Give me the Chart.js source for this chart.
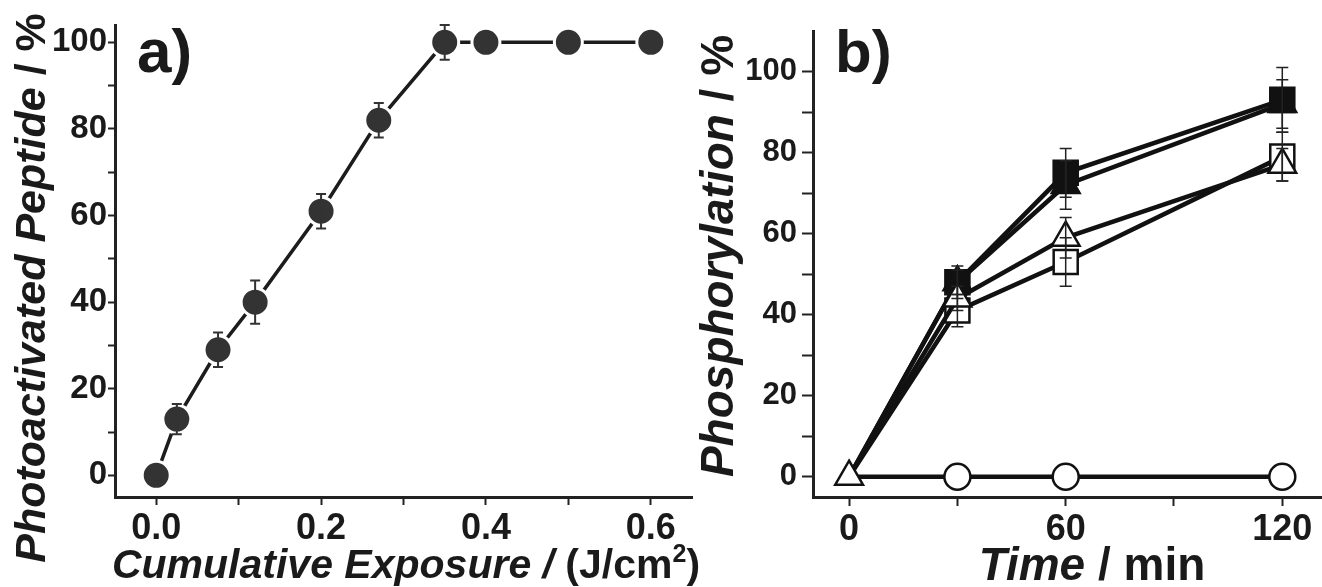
<!DOCTYPE html>
<html>
<head>
<meta charset="utf-8">
<script src="https://cdn.jsdelivr.net/npm/chart.js@4.4.1/dist/chart.umd.min.js"></script>
<style>
  html, body { margin: 0; padding: 0; background: #fff; }
  #wrap { position: relative; width: 1322px; height: 587px; overflow: hidden; }
  canvas { position: absolute; top: 0; }
  #chartA { left: 0; }
  #chartB { left: 690px; }
</style>
</head>
<body>
<div id="wrap">
  <canvas id="chartA" width="700" height="587"></canvas>
  <canvas id="chartB" width="632" height="587"></canvas>
</div>
<script>
// panel a) data
const exposureA = [0, 0.025, 0.075, 0.12, 0.2, 0.27, 0.35, 0.4, 0.5, 0.6];
const peptideA = [0, 13, 29, 40, 61, 82, 100, 100, 100, 100];
const peptideErrA = [1, 3.5, 4, 5, 4, 4, 4, 1, 1, 1];

// panel b) data
const timeB = [0, 30, 60, 120];
const filledSqB = [0, 48, 75, 93];
const filledSqErrB = [0, 3, 6, 8];
const filledTriB = [0, 48, 72, 92];
const filledTriErrB = [0, 4, 6, 6];
const openSqB = [0, 41, 53, 79];
const openSqErrB = [0, 4, 6, 6];
const openTriB = [0, 44, 59, 77];
const openTriErrB = [0, 3, 5, 4];
const circleB = [0, 0, 0, 0];

// ticks
const xMajorA = [0, 0.2, 0.4, 0.6];
const xLabelsA = ["0.0", "0.2", "0.4", "0.6"];
const xMinorA = [0.1, 0.3, 0.5];
const yMajorA = [0, 20, 40, 60, 80, 100];
const yLabelsA = ["0", "20", "40", "60", "80", "100"];
const yMinorA = [10, 30, 50, 70, 90];
const xMajorB = [0, 60, 120];
const xLabelsB = ["0", "60", "120"];
const xMinorB = [30, 90];
const yMajorB = [0, 20, 40, 60, 80, 100];
const yLabelsB = ["0", "20", "40", "60", "80", "100"];
const yMinorB = [10, 30, 50, 70, 90];

const FONT = '"Liberation Sans", Arial, sans-serif';
const INK = "#1a1a1a";

function pts(xs, ys) {
  return xs.map((x, i) => ({ x: x, y: ys[i] }));
}

function labelFor(v, major, labels) {
  const k = major.findIndex(m => Math.abs(m - v) < 1e-9);
  return k < 0 ? "" : labels[k];
}

// error bars drawn from each dataset's "errors" array
const errorBars = {
  id: "errorBars",
  afterDatasetsDraw(chart, args, opts) {
    const ctx = chart.ctx;
    const ys = chart.scales.y;
    chart.data.datasets.forEach((ds, i) => {
      if (!ds.errors) return;
      const meta = chart.getDatasetMeta(i);
      meta.data.forEach((pt, j) => {
        const e = ds.errors[j];
        if (!e) return;
        const v = ds.data[j].y;
        const top = ys.getPixelForValue(v + e);
        const bot = ys.getPixelForValue(v - e);
        ctx.save();
        ctx.strokeStyle = opts.color;
        ctx.lineWidth = opts.width;
        ctx.beginPath();
        ctx.moveTo(pt.x, top); ctx.lineTo(pt.x, bot);
        ctx.moveTo(pt.x - opts.cap, top); ctx.lineTo(pt.x + opts.cap, top);
        ctx.moveTo(pt.x - opts.cap, bot); ctx.lineTo(pt.x + opts.cap, bot);
        ctx.stroke();
        ctx.restore();
      });
    });
  }
};

// axis titles + panel letters, mixed italic / upright pieces
const panelText = {
  id: "panelText",
  afterDraw(chart, args, opts) {
    const ctx = chart.ctx;
    (opts.items || []).forEach(item => {
      ctx.save();
      ctx.translate(item.x, item.y);
      if (item.rotate) ctx.rotate(item.rotate);
      ctx.fillStyle = INK;
      ctx.textBaseline = "alphabetic";
      let total = 0;
      item.parts.forEach(p => { ctx.font = p.font; total += ctx.measureText(p.text).width; });
      let x = item.center ? -total / 2 : 0;
      item.parts.forEach(p => {
        ctx.font = p.font;
        ctx.fillText(p.text, x, p.dy || 0);
        x += ctx.measureText(p.text).width;
      });
      ctx.restore();
    });
  }
};

function axis(min, max, major, minor, labels, size, fit, tickLen, pad) {
  return {
    type: "linear",
    min: min,
    max: max,
    afterBuildTicks: s => { s.ticks = major.concat(minor).sort((a, b) => a - b).map(v => ({ value: v })); },
    afterFit: s => {
      if (s.isHorizontal()) s.height = fit; else s.width = fit;
      s.paddingLeft = s.paddingRight = s.paddingTop = s.paddingBottom = 0;
    },
    grid: { drawOnChartArea: false, tickLength: tickLen, tickColor: "#222", tickWidth: 2 },
    border: { color: "#222", width: 3 },
    ticks: {
      autoSkip: false, maxRotation: 0, padding: pad, color: INK,
      font: { family: FONT, size: size, weight: "bold" },
      callback: v => labelFor(v, major, labels)
    }
  };
}

new Chart(document.getElementById("chartA"), {
  type: "line",
  data: {
    datasets: [{
      data: pts(exposureA, peptideA),
      errors: peptideErrA,
      borderColor: "#1c1c1c",
      borderWidth: 3.5,
      tension: 0,
      pointStyle: "circle",
      pointRadius: 14,
      pointBackgroundColor: "#333",
      pointBorderColor: "#fff",
      pointBorderWidth: 3
    }]
  },
  options: {
    responsive: false,
    animation: false,
    layout: { autoPadding: false, padding: { top: 25, right: 8, left: 0, bottom: 0 } },
    scales: {
      x: axis(-0.05, 0.65, xMajorA, xMinorA, xLabelsA, 36, 90, 8, 2),
      y: axis(-5, 104, yMajorA, yMinorA, yLabelsA, 33, 115, 7, 1)
    },
    plugins: {
      legend: { display: false },
      tooltip: { enabled: false },
      errorBars: { color: "#333", width: 2, cap: 5 },
      panelText: {
        items: [
          { x: 137, y: 72, parts: [{ text: "a)", font: "bold 62px " + FONT }] },
          { x: 45, y: 288, rotate: -Math.PI / 2, center: true, parts: [
            { text: "Photoactivated Peptide", font: "italic bold 43px " + FONT },
            { text: " / %", font: "bold 43px " + FONT }
          ] },
          { x: 406, y: 578, center: true, parts: [
            { text: "Cumulative Exposure /", font: "italic bold 41px " + FONT },
            { text: " (J/cm", font: "bold 41px " + FONT },
            { text: "2", font: "bold 25px " + FONT, dy: -16 },
            { text: ")", font: "bold 41px " + FONT }
          ] }
        ]
      }
    }
  },
  plugins: [errorBars, panelText]
});

// markers at t = 0 sit under the open triangle, so only it shows there
function seriesB(values, errs, style, radius, fill, order, showFirst) {
  return {
    data: pts(timeB, values),
    errors: errs,
    order: order,
    borderColor: "#111",
    borderWidth: 4.5,
    tension: 0,
    pointStyle: style,
    pointRadius: timeB.map((t, i) => (i === 0 && !showFirst ? 0 : radius)),
    pointBackgroundColor: fill,
    pointBorderColor: "#111",
    pointBorderWidth: 2.5
  };
}

new Chart(document.getElementById("chartB"), {
  type: "line",
  data: {
    datasets: [
      seriesB(circleB, null, "circle", 13, "#fff", 4, false),
      seriesB(filledTriB, filledTriErrB, "triangle", 16, "#111", 3, false),
      seriesB(openSqB, openSqErrB, "rect", 17, "#fff", 2, false),
      seriesB(filledSqB, filledSqErrB, "rect", 17, "#111", 1, false),
      seriesB(openTriB, openTriErrB, "triangle", 16, "#fff", 0, true)
    ]
  },
  options: {
    responsive: false,
    animation: false,
    layout: { autoPadding: false, padding: { top: 31, right: 0, left: 0, bottom: 0 } },
    scales: {
      x: axis(-10, 131, xMajorB, xMinorB, xLabelsB, 36, 90, 9, 2),
      y: axis(-5, 110, yMajorB, yMinorB, yLabelsB, 31, 123, 11, 5)
    },
    plugins: {
      legend: { display: false },
      tooltip: { enabled: false },
      errorBars: { color: "#222", width: 1.5, cap: 6 },
      panelText: {
        items: [
          { x: 145, y: 72, parts: [{ text: "b)", font: "bold 60px " + FONT }] },
          { x: 43, y: 256, rotate: -Math.PI / 2, center: true, parts: [
            { text: "Phosphorylation", font: "italic bold 46px " + FONT },
            { text: " / %", font: "bold 46px " + FONT }
          ] },
          { x: 402, y: 580, center: true, parts: [
            { text: "Time", font: "italic bold 46px " + FONT },
            { text: " / min", font: "bold 46px " + FONT }
          ] }
        ]
      }
    }
  },
  plugins: [errorBars, panelText]
});
</script>
</body>
</html>
